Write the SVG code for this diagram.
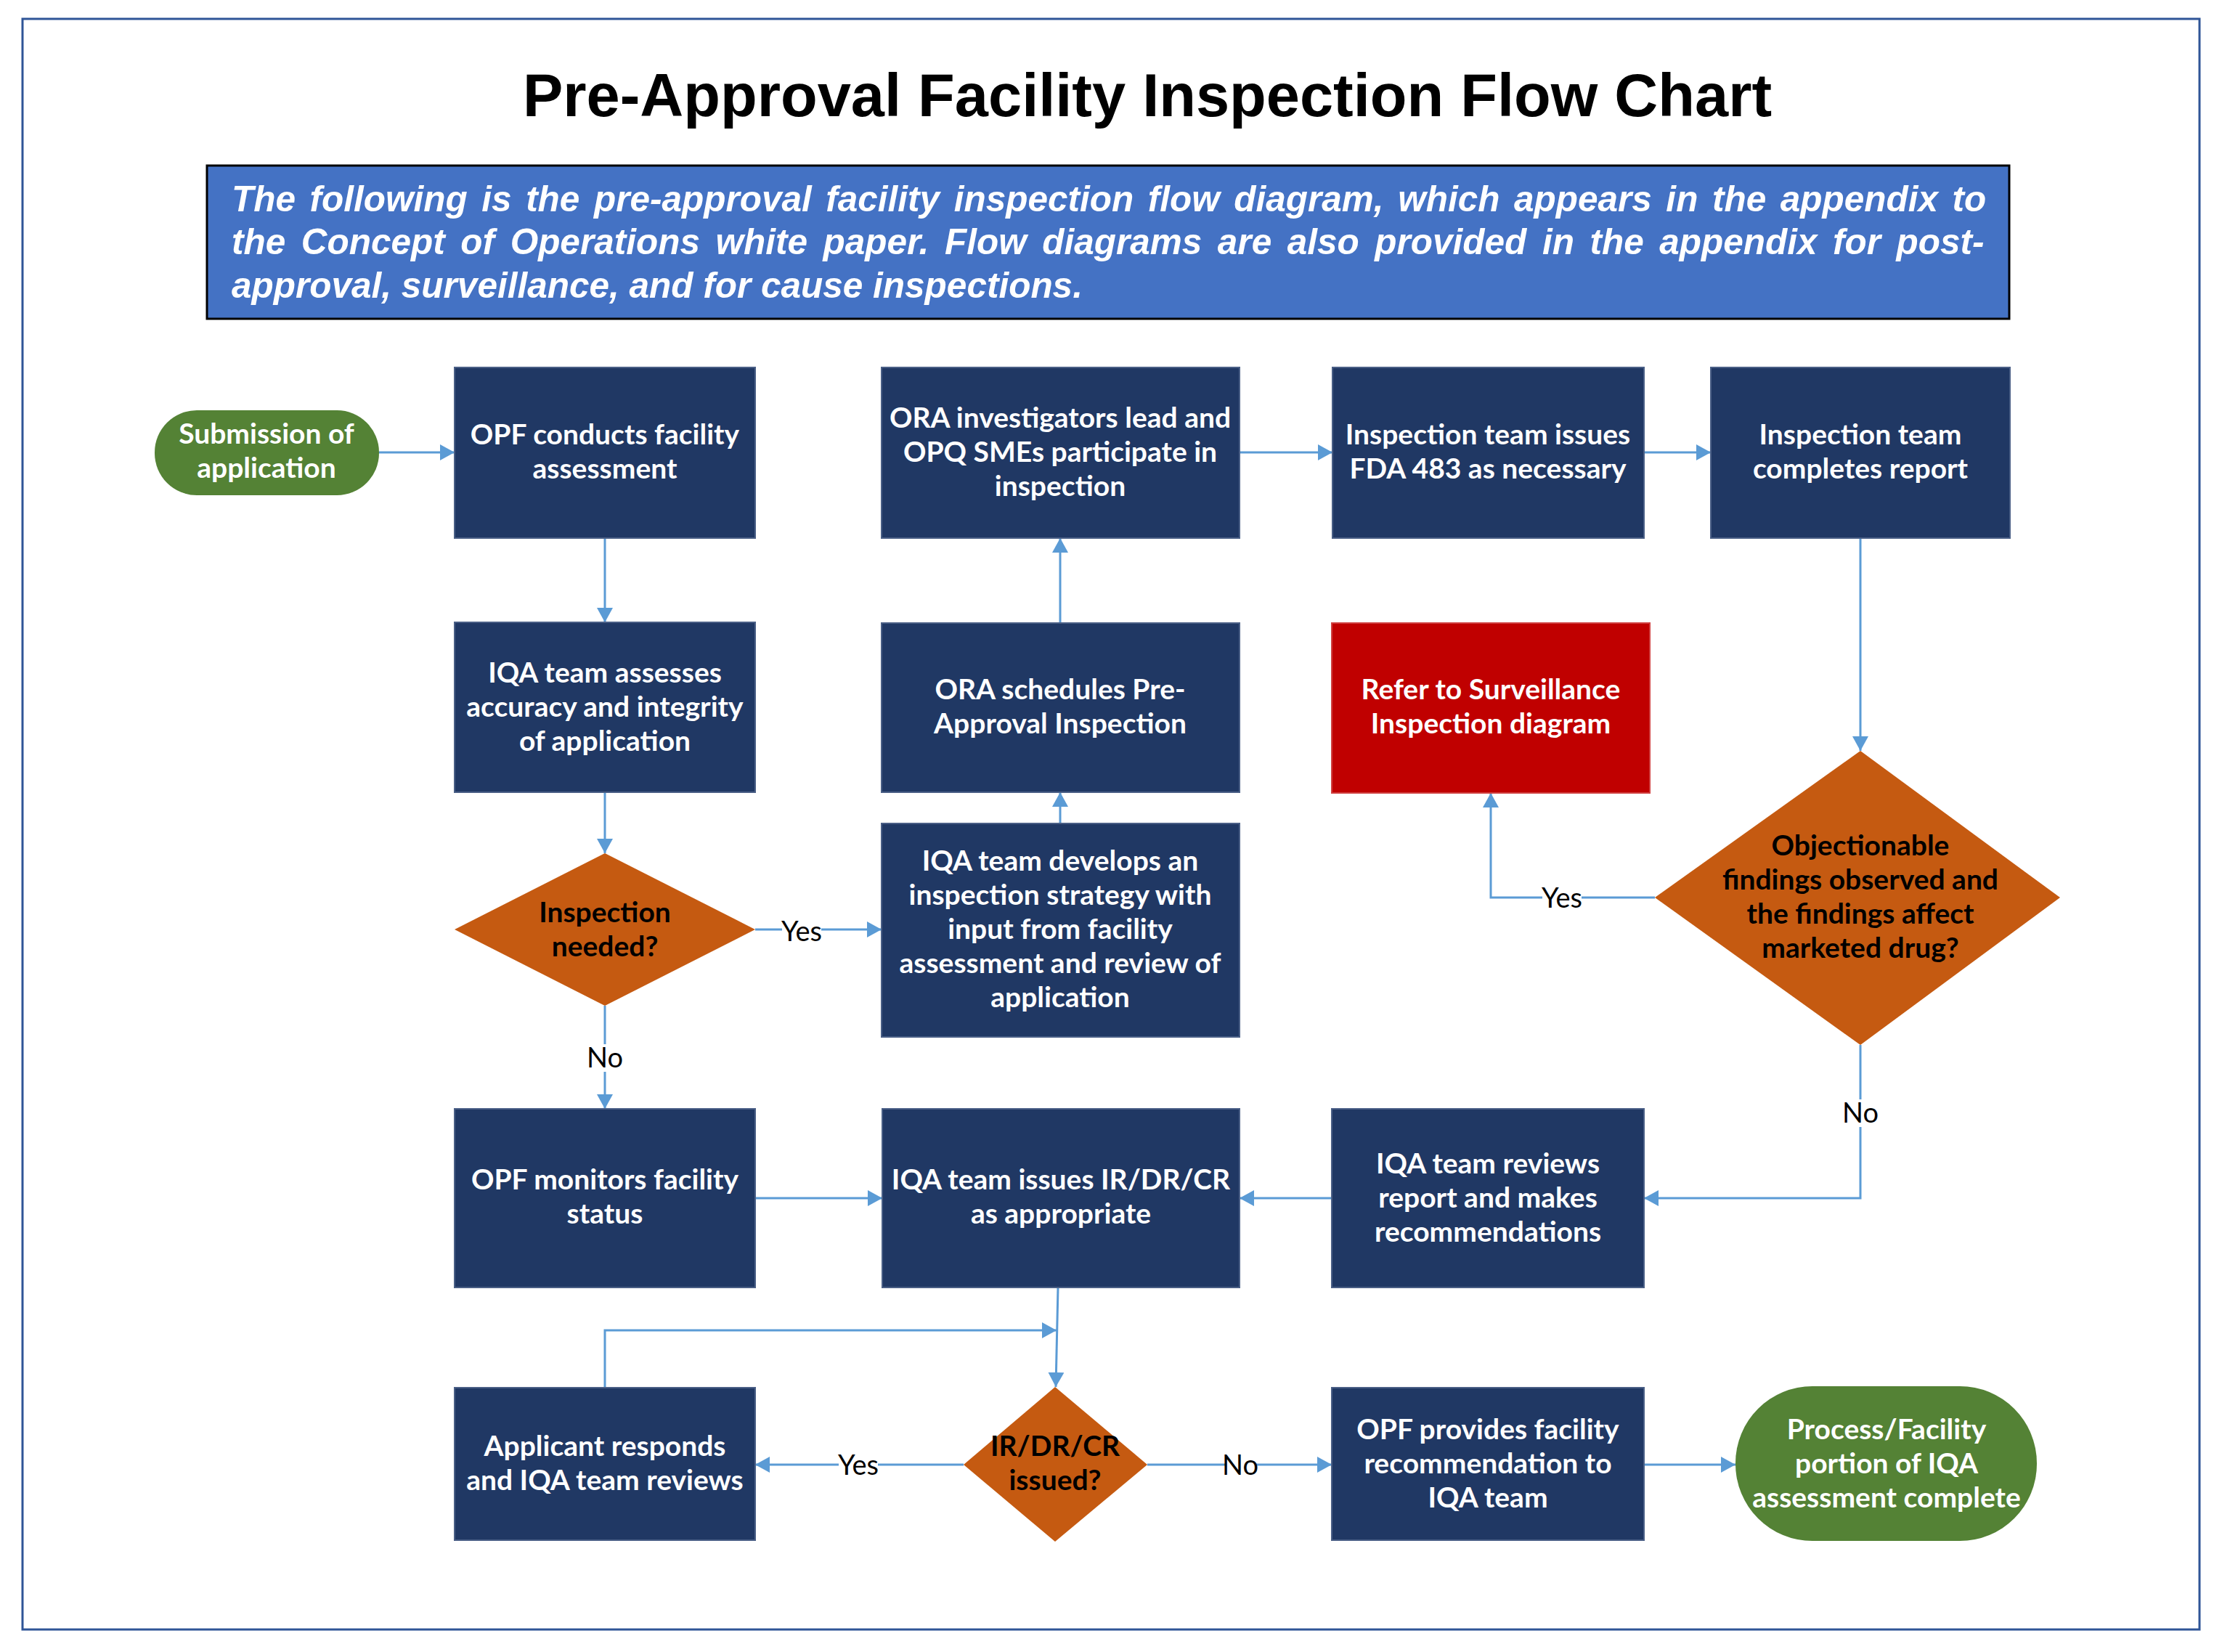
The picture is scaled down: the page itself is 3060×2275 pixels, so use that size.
<svg xmlns="http://www.w3.org/2000/svg" width="3060" height="2275" viewBox="0 0 3060 2275">
<style>
.box{fill:#203864;stroke:#4A5F86;stroke-width:2}
.dia{fill:#C55A11}
.term{fill:#548235}
.red{fill:#C00000;stroke:#D04040;stroke-width:2}
.t{font-family:Lato,"Open Sans","Liberation Sans",sans-serif;font-weight:bold;font-size:39px;fill:#FFFFFF;text-anchor:middle}
.tb{font-family:Lato,"Open Sans","Liberation Sans",sans-serif;font-weight:bold;font-size:39px;fill:#000000;text-anchor:middle}
.lab{font-family:Lato,"Open Sans","Liberation Sans",sans-serif;font-size:38px;fill:#000000;text-anchor:middle}
.con{fill:none;stroke:#5B9BD5;stroke-width:3;marker-end:url(#arr)}
.line{fill:none;stroke:#5B9BD5;stroke-width:3}
.desc{font-family:"Liberation Sans",Arial,sans-serif;font-weight:bold;font-style:italic;font-size:49.5px;fill:#FFFFFF}
</style>
<defs>
<marker id="arr" markerUnits="userSpaceOnUse" markerWidth="22" markerHeight="22" refX="20" refY="11" orient="auto">
<path d="M0,0 L20,11 L0,22 z" fill="#5B9BD5"/>
</marker>
</defs>
<rect x="0" y="0" width="3060" height="2275" fill="#FFFFFF"/>
<rect x="31" y="26" width="2998" height="2218" fill="#FFFFFF" stroke="#2F5597" stroke-width="3"/>
<text x="1580" y="160" font-family="'Liberation Sans',Arial,sans-serif" font-weight="bold" font-size="83" text-anchor="middle" fill="#000000">Pre-Approval Facility Inspection Flow Chart</text>
<g id="description">
<rect x="285" y="228" width="2482" height="211" fill="#4472C4" stroke="#000000" stroke-width="3"/>
<text class="desc" x="319" y="291" word-spacing="5.8">The following is the pre-approval facility inspection flow diagram, which appears in the appendix to</text>
<text class="desc" x="319" y="350" word-spacing="7.8">the Concept of Operations white paper. Flow diagrams are also provided in the appendix for post-</text>
<text class="desc" x="319" y="410">approval, surveillance, and for cause inspections.</text>
</g>
<g id="connectors">
<path class="con" d="M522,623 H626"/>
<path class="con" d="M833,741 V857"/>
<path class="con" d="M833,1091 V1175"/>
<path class="con" d="M1040,1280 H1214"/>
<path class="con" d="M1460,1134 V1091"/>
<path class="con" d="M1460,858 V741"/>
<path class="con" d="M1707,623 H1835"/>
<path class="con" d="M2264,623 H2356"/>
<path class="con" d="M2562,742 V1034"/>
<path class="con" d="M2279,1236 H2053 V1092"/>
<path class="con" d="M2562,1439 V1650 H2264"/>
<path class="con" d="M1834,1650 H1707"/>
<path class="con" d="M1040,1650 H1215"/>
<path class="con" d="M833,1385 V1527"/>
<path class="con" d="M1457,1773 L1454,1910"/>
<path class="con" d="M833,1911 V1832 H1455"/>
<path class="con" d="M1327,2017 H1040"/>
<path class="con" d="M1580,2017 H1834"/>
<path class="con" d="M2264,2017 H2390"/>
<g id="labels">
<rect x="1077" y="1262" width="54" height="38" fill="#FFFFFF"/>
<text class="lab" x="1104" y="1296">Yes</text>
<rect x="2124" y="1218" width="54" height="38" fill="#FFFFFF"/>
<text class="lab" x="2151" y="1250">Yes</text>
<rect x="813" y="1438" width="40" height="38" fill="#FFFFFF"/>
<text class="lab" x="833" y="1470">No</text>
<rect x="2542" y="1514" width="40" height="38" fill="#FFFFFF"/>
<text class="lab" x="2562" y="1546">No</text>
<rect x="1155" y="1999" width="54" height="38" fill="#FFFFFF"/>
<text class="lab" x="1182" y="2031">Yes</text>
<rect x="1688" y="1999" width="40" height="38" fill="#FFFFFF"/>
<text class="lab" x="1708" y="2031">No</text>
</g>
</g>
<g id="n-submission">
<rect class="term" x="213" y="565" width="309" height="117" rx="58" ry="58"/>
<text class="t" x="367" y="611">Submission of</text>
<text class="t" x="367" y="658">application</text>
</g>
<g id="n-opf-conducts">
<rect class="box" x="626" y="506" width="414" height="235"/>
<text class="t" x="833" y="612">OPF conducts facility</text>
<text class="t" x="833" y="659">assessment</text>
</g>
<g id="n-ora-investigators">
<rect class="box" x="1214" y="506" width="493" height="235"/>
<text class="t" x="1460" y="589">ORA investigators lead and</text>
<text class="t" x="1460" y="636">OPQ SMEs participate in</text>
<text class="t" x="1460" y="683">inspection</text>
</g>
<g id="n-fda483">
<rect class="box" x="1835" y="506" width="429" height="235"/>
<text class="t" x="2049" y="612">Inspection team issues</text>
<text class="t" x="2049" y="659">FDA 483 as necessary</text>
</g>
<g id="n-completes">
<rect class="box" x="2356" y="506" width="412" height="235"/>
<text class="t" x="2562" y="612">Inspection team</text>
<text class="t" x="2562" y="659">completes report</text>
</g>
<g id="n-iqa-assesses">
<rect class="box" x="626" y="857" width="414" height="234"/>
<text class="t" x="833" y="940">IQA team assesses</text>
<text class="t" x="833" y="987">accuracy and integrity</text>
<text class="t" x="833" y="1034">of application</text>
</g>
<g id="n-ora-schedules">
<rect class="box" x="1214" y="858" width="493" height="233"/>
<text class="t" x="1460" y="963">ORA schedules Pre-</text>
<text class="t" x="1460" y="1010">Approval Inspection</text>
</g>
<g id="n-refer">
<rect class="red" x="1834" y="858" width="438" height="234"/>
<text class="t" x="2053" y="963">Refer to Surveillance</text>
<text class="t" x="2053" y="1010">Inspection diagram</text>
</g>
<g id="n-inspection-needed">
<polygon class="dia" points="833,1175 1040,1280 833,1385 626,1280"/>
<text class="tb" x="833" y="1270">Inspection</text>
<text class="tb" x="833" y="1317">needed?</text>
</g>
<g id="n-iqa-develops">
<rect class="box" x="1214" y="1134" width="493" height="294"/>
<text class="t" x="1460" y="1199">IQA team develops an</text>
<text class="t" x="1460" y="1246">inspection strategy with</text>
<text class="t" x="1460" y="1293">input from facility</text>
<text class="t" x="1460" y="1340">assessment and review of</text>
<text class="t" x="1460" y="1387">application</text>
</g>
<g id="n-objectionable">
<polygon class="dia" points="2562,1034 2837,1236 2562,1439 2279,1236"/>
<text class="tb" x="2562" y="1178">Objectionable</text>
<text class="tb" x="2562" y="1225">findings observed and</text>
<text class="tb" x="2562" y="1272">the findings affect</text>
<text class="tb" x="2562" y="1319">marketed drug?</text>
</g>
<g id="n-opf-monitors">
<rect class="box" x="626" y="1527" width="414" height="246"/>
<text class="t" x="833" y="1638">OPF monitors facility</text>
<text class="t" x="833" y="1685">status</text>
</g>
<g id="n-iqa-issues">
<rect class="box" x="1215" y="1527" width="492" height="246"/>
<text class="t" x="1461" y="1638">IQA team issues IR/DR/CR</text>
<text class="t" x="1461" y="1685">as appropriate</text>
</g>
<g id="n-iqa-reviews">
<rect class="box" x="1834" y="1527" width="430" height="246"/>
<text class="t" x="2049" y="1616">IQA team reviews</text>
<text class="t" x="2049" y="1663">report and makes</text>
<text class="t" x="2049" y="1710">recommendations</text>
</g>
<g id="n-applicant">
<rect class="box" x="626" y="1911" width="414" height="210"/>
<text class="t" x="833" y="2005">Applicant responds</text>
<text class="t" x="833" y="2052">and IQA team reviews</text>
</g>
<g id="n-irdrcr">
<polygon class="dia" points="1453,1910 1580,2017 1453,2123 1327,2017"/>
<text class="tb" x="1453" y="2005">IR/DR/CR</text>
<text class="tb" x="1453" y="2052">issued?</text>
</g>
<g id="n-opf-provides">
<rect class="box" x="1834" y="1911" width="430" height="210"/>
<text class="t" x="2049" y="1982">OPF provides facility</text>
<text class="t" x="2049" y="2029">recommendation to</text>
<text class="t" x="2049" y="2076">IQA team</text>
</g>
<g id="n-complete">
<rect class="term" x="2390" y="1909" width="415" height="213" rx="106" ry="106"/>
<text class="t" x="2598" y="1982">Process/Facility</text>
<text class="t" x="2598" y="2029">portion of IQA</text>
<text class="t" x="2598" y="2076">assessment complete</text>
</g>
</svg>
